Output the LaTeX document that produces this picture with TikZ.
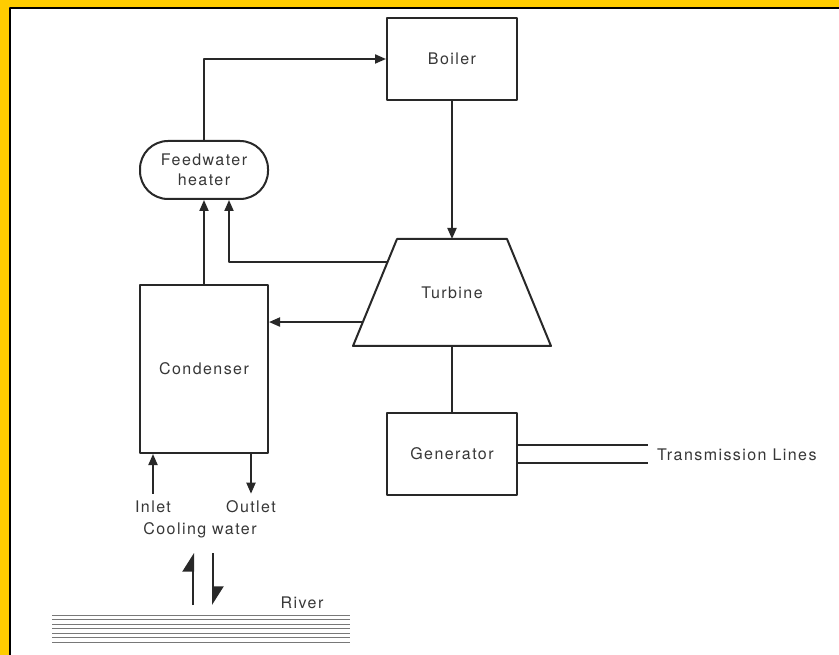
\documentclass[tikz,border=0pt]{standalone}
\usepackage{fontspec}
\setmainfont[LetterSpace=9]{TeX Gyre Heros}
\usepackage{tikz}
\usetikzlibrary{arrows.meta,calc}
\definecolor{pwedge}{RGB}{40,40,40}
\definecolor{pwink}{RGB}{55,55,55}
\definecolor{pwframe}{RGB}{255,204,0}
\definecolor{pwriver}{RGB}{120,120,120}
\tikzset{
  pwbox/.style={
    draw=pwedge, line width=2pt, align=center, inner sep=0pt,
    text=pwink, font=\fontsize{16}{19.5}\selectfont
  },
  unit/.style={pwbox, minimum width=130pt, minimum height=82pt},
  heat/.style={pwbox, rounded corners=28pt, minimum width=128pt, minimum height=58pt},
  arr/.style={-{Triangle[length=11pt,width=9pt]}, draw=pwedge, line width=2pt},
  harp/.style={-{Triangle[left,length=17pt,width=21pt]}, draw=pwedge, line width=2pt},
  wire/.style={draw=pwedge, line width=2pt},
  anno/.style={text=pwink, font=\fontsize{16}{19.5}\selectfont, inner sep=1pt},
  riv/.style={draw=pwriver, line width=1pt},
  every picture/.append style={line join=round}
}
\begin{document}
\begin{tikzpicture}[x=1pt, y=-1pt]
  \useasboundingbox (0,0) rectangle (839,655);
  \fill[white] (0,0) rectangle (839,655);
  % frame
  \fill[pwframe] (0,0) rectangle (839,7);
  \fill[pwframe] (0,0) rectangle (9,655);
  \draw[black, line width=2pt] (839,8) -- (10,8) -- (10,655);

  % plant units
  \node[unit] (bo) at (452,59) {Boiler};
  \node[heat] (fw) at (204,170) {Feedwater\\heater};
  \node[pwbox, minimum width=128pt, minimum height=168pt] (co) at (204,369) {Condenser};
  \node[unit] (ge) at (452,454) {Generator};

  % turbine
  \coordinate (ttl) at (397,239);
  \coordinate (ttr) at (507,239);
  \coordinate (tbr) at (551,346);
  \coordinate (tbl) at (353,346);
  \draw[wire] (ttl) -- (ttr) -- (tbr) -- (tbl) -- cycle;
  \node[anno] (tu) at (452,293) {Turbine};
  \coordinate (tbm) at ($(tbl)!0.5!(tbr)$);
  \coordinate (tx1) at ($(tbl)!0.785!(ttl)$);
  \coordinate (tx2) at ($(tbl)!0.224!(ttl)$);

  % steam and water flow
  \draw[arr] (fw.north) |- (bo.west);
  \draw[arr] (bo.south) -- (bo.south |- ttl);
  \draw[wire] (tbm) -- (ge.north);
  \draw[arr] (co.north) -- (co.north |- fw.south);
  \draw[arr] (tx1) -| ([xshift=25pt]fw.south);
  \draw[arr] (tx2) -- (tx2 -| co.east);

  % transmission lines
  \coordinate (tl1) at (648,445);
  \coordinate (tl2) at (648,463);
  \draw[wire] (tl1 -| ge.east) -- (tl1);
  \draw[wire] (tl2 -| ge.east) -- (tl2);
  \node[anno, anchor=west] (tx) at (656,455) {Transmission Lines};

  % cooling water
  \node[anno] (inl) at (153,507) {Inlet};
  \node[anno] (outl) at (251,507) {Outlet};
  \node[anno] (cw) at (200,530) {Cooling water};
  \draw[arr] ([yshift=6pt]inl.north) -- (inl.north |- co.south);
  \draw[arr] (outl.north |- co.south) -- ([yshift=6pt]outl.north);

  % river
  \coordinate (ru0) at (193,605);
  \coordinate (ru1) at (193,553);
  \coordinate (rd0) at (213,553);
  \coordinate (rd1) at (213,605);
  \draw[harp] (ru0) -- (ru1);
  \draw[harp] (rd0) -- (rd1);
  \node[anno] (rv) at (302,603) {River};
  \foreach \k in {0,...,6}
    \draw[riv] (52,{615+4.5*\k}) -- (350,{615+4.5*\k});
\end{tikzpicture}
\end{document}
